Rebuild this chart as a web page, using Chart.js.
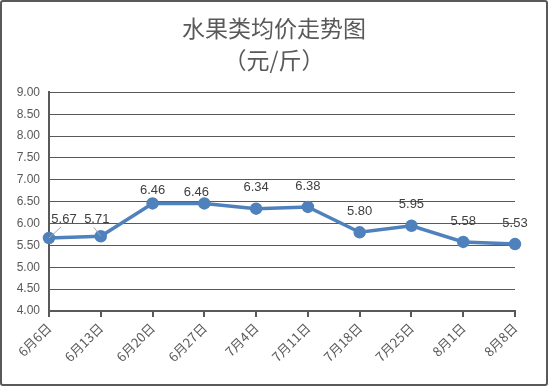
<!DOCTYPE html>
<html>
<head>
<meta charset="utf-8">
<script src="https://cdn.jsdelivr.net/npm/chart.js@4"></script>
<style>
  html, body { margin: 0; padding: 0; background: #fff; }
  #box {
    width: 548px; height: 386px; box-sizing: border-box;
    border: 2px solid #595959; border-radius: 3px; background: #fff;
  }
  canvas { display: block; }
</style>
</head>
<body>
<div id="box"><canvas id="priceChart" width="544" height="382"></canvas></div>
<script>
const dates = ['6月6日', '6月13日', '6月20日', '6月27日', '7月4日', '7月11日', '7月18日', '7月25日', '8月1日', '8月8日'];
const prices = [5.67, 5.71, 6.46, 6.46, 6.34, 6.38, 5.80, 5.95, 5.58, 5.53];
const titleLines = ['水果类均价走势图', '（元/斤）'];

const cjk = '"Noto Sans CJK SC", "Liberation Sans", sans-serif';
const axisGrey = '#595959';

// draws the value above each point, a few are nudged like the original
const valueLabels = {
    id: 'valueLabels',
    afterDatasetsDraw(chart, args, opts) {
        const c = chart.ctx;
        const meta = chart.getDatasetMeta(0);
        c.save();
        c.font = '13px "Liberation Sans", sans-serif';
        c.fillStyle = '#404040';
        c.textAlign = 'center';
        c.textBaseline = 'middle';
        meta.data.forEach((pt, i) => {
            const shift = opts.shifts[i] || [0, -21];
            const lx = pt.x + shift[0];
            const ly = pt.y + shift[1];
            if (opts.leaders.includes(i)) {
                c.strokeStyle = '#a6a6a6';
                c.lineWidth = 1;
                c.beginPath();
                c.moveTo(pt.x, pt.y);
                c.lineTo(lx - 3, ly + 8);
                c.stroke();
            }
            c.fillText(prices[i].toFixed(2), lx, ly);
        });
        c.restore();
    }
};

new Chart(document.getElementById('priceChart'), {
    type: 'line',
    data: {
        labels: dates,
        datasets: [{
            data: prices,
            borderColor: '#4F81BD',
            backgroundColor: '#4F81BD',
            borderWidth: 3.5,
            pointRadius: 4.5,
            pointHoverRadius: 4.5,
            tension: 0
        }]
    },
    options: {
        responsive: false,
        animation: false,
        layout: { padding: 0 },
        plugins: {
            legend: { display: false },
            tooltip: { enabled: false },
            title: {
                display: true,
                text: titleLines,
                color: axisGrey,
                font: { family: cjk, size: 23, weight: 'normal', lineHeight: 1.4 },
                padding: { top: 10, bottom: 16 }
            },
            valueLabels: {
                shifts: { 0: [15, -19], 1: [-4, -17], 2: [0, -13], 3: [-8, -11] },
                leaders: [0, 1]
            }
        },
        scales: {
            x: {
                offset: false,
                grid: { drawOnChartArea: false, color: axisGrey, tickLength: 6, lineWidth: 2 },
                border: { color: axisGrey, width: 2 },
                ticks: {
                    color: axisGrey,
                    font: { family: cjk, size: 13 },
                    maxRotation: 45, minRotation: 45, autoSkip: false, padding: 3
                },
                afterFit(scale) { scale.height = 73; }
            },
            y: {
                min: 4, max: 9,
                grid: { color: axisGrey, lineWidth: 1, drawTicks: false },
                border: { color: axisGrey, width: 2 },
                ticks: {
                    stepSize: 0.5,
                    color: axisGrey,
                    padding: 9,
                    font: { family: '"Liberation Sans", sans-serif', size: 12 },
                    callback: v => v.toFixed(2)
                },
                afterFit(scale) { scale.width = 47; }
            },
            // empty right margin so the title centres on the whole canvas
            spacer: {
                type: 'linear',
                position: 'right',
                grid: { display: false },
                border: { display: false },
                ticks: { display: false },
                afterFit(scale) { scale.width = 31; }
            }
        }
    },
    plugins: [valueLabels]
});
</script>
</body>
</html>
